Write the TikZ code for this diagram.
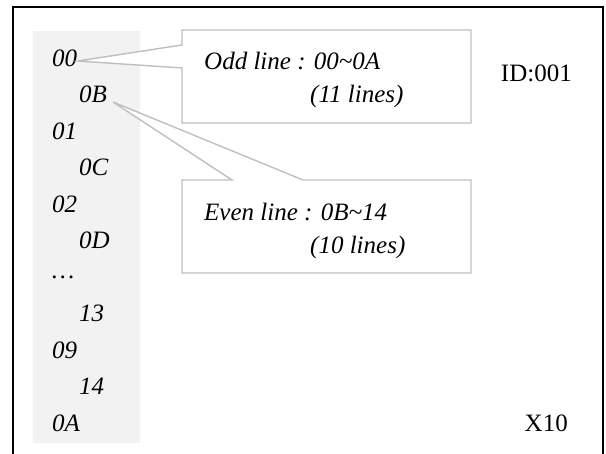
\documentclass[tikz,border=0pt]{standalone}
\usepackage{fontspec}
\setmainfont{Liberation Serif}
\usetikzlibrary{positioning}
\tikzset{lbl/.style = {font=\fontsize{25}{30}\selectfont\itshape, inner sep=0, anchor=west}}
\tikzset{tag/.style = {font=\fontsize{25}{30}\selectfont, inner sep=0}}
\tikzset{callout/.style = {draw=black!25, line width=1.4pt, fill=white, line join=miter}}
\definecolor{colfill}{RGB}{242,242,242}

\begin{document}
\begin{tikzpicture}[x=1pt, y=-1pt]
      \clip (0, 0) rectangle (606, 454);
      \fill [white] (0, 0) rectangle (606, 454);
      \draw [line width=1.6pt] (13, 7) rectangle (603, 470);
      \fill [colfill] (33, 31) rectangle (140, 443);

      % line numbers in the left column
      \foreach \t/\x [count=\i from 0] in {00/52, 0B/79, 01/52, 0C/79, 02/52, 0D/79, \dots/52, 13/79, 09/52, 14/79, 0A/52}
        \node [lbl] (n\i) at (\x, 58 + 36.5*\i) {\t};

      \node [tag, anchor=east] (id) at (572, 73) {ID:001};
      \node [tag, anchor=east] (cnt) at (568, 423) {X10};

      \coordinate (tipodd) at (78, 61);
      \coordinate (tipeven) at (113, 102);

      \draw [callout] (182, 30) -- (471, 30) -- (471, 123) -- (182, 123) -- (182, 68)
            -- (tipodd) -- (182, 45) -- cycle;
      \node [lbl] (odd) at (204, 61) {Odd line : 00\textasciitilde 0A};
      \node [lbl] (oddn) at (310, 96) {(11 lines)};

      \draw [callout] (182, 180) -- (232, 180) -- (tipeven) -- (303, 180) -- (471, 180)
            -- (471, 273) -- (182, 273) -- cycle;
      \node [lbl] (even) at (204, 212) {Even line : 0B\textasciitilde 14};
      \node [lbl] (evenn) at (310, 247) {(10 lines)};
    \end{tikzpicture}
\end{document}
